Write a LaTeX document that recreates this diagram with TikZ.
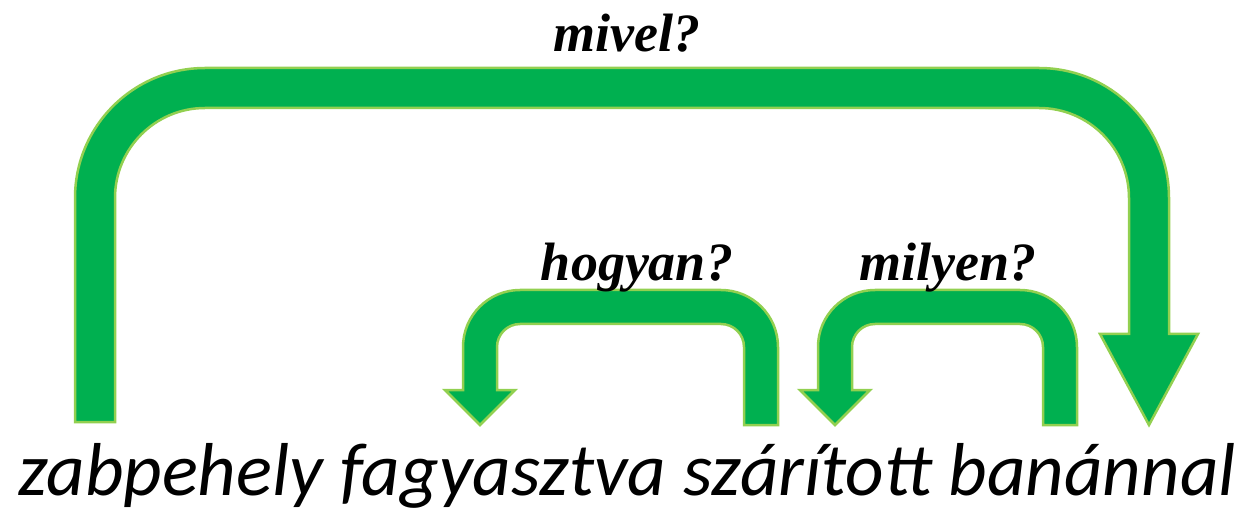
\documentclass[tikz,border=0pt]{standalone}
\usepackage{fontspec}
\setmainfont{Liberation Serif}
\newfontfamily\calibfont{Carlito}
\definecolor{arrowfill}{HTML}{00B050}
\definecolor{arrowline}{HTML}{92D050}
\begin{document}
\begin{tikzpicture}[x=1pt,y=1pt,
  blockarrow/.style={fill=arrowfill,draw=arrowline,line width=2.5pt,line join=miter},
  qlabel/.style={anchor=base,inner sep=0pt,font=\bfseries\itshape\fontsize{54}{60}\selectfont},
  sentence/.style={anchor=base west,inner sep=0pt,font=\calibfont\itshape\fontsize{75}{80}\selectfont}]
\useasboundingbox (0,0) rectangle (1243,512);
% big arrow (mivel?)
\draw[blockarrow] (75,90) -- (75,314) arc[start angle=180,end angle=90,radius=130pt]
  -- (1039,444) arc[start angle=90,end angle=0,radius=130pt]
  -- (1169,178) -- (1198,178) -- (1149,87) -- (1100,178) -- (1129,178)
  -- (1129,314) arc[start angle=0,end angle=90,radius=90pt]
  -- (205,404) arc[start angle=90,end angle=180,radius=90pt]
  -- (115,90) -- cycle;
% hogyan? arrow
\draw[blockarrow] (778,87) -- (778,165) arc[start angle=0,end angle=90,radius=57pt]
  -- (520,222) arc[start angle=90,end angle=180,radius=57pt]
  -- (463,122) -- (445,122) -- (480,87) -- (515,122) -- (497,122)
  -- (497,165) arc[start angle=180,end angle=90,radius=23pt]
  -- (721,188) arc[start angle=90,end angle=0,radius=23pt]
  -- (744,87) -- cycle;
% milyen? arrow
\draw[blockarrow] (1077,87) -- (1077,165) arc[start angle=0,end angle=90,radius=57pt]
  -- (875,222) arc[start angle=90,end angle=180,radius=57pt]
  -- (818,122) -- (800,122) -- (835,87) -- (870,122) -- (852,122)
  -- (852,165) arc[start angle=180,end angle=90,radius=23pt]
  -- (1020,188) arc[start angle=90,end angle=0,radius=23pt]
  -- (1043,87) -- cycle;
% labels
\node[qlabel] (mivel) at (627,460) {mivel?};
\node[qlabel] (hogyan) at (637,231) {hogyan?};
\node[qlabel] (milyen) at (948,231) {milyen?};
\node[sentence] (sentence) at (18,17) {zabpehely fagyasztva szárított banánnal};
\end{tikzpicture}
\end{document}
